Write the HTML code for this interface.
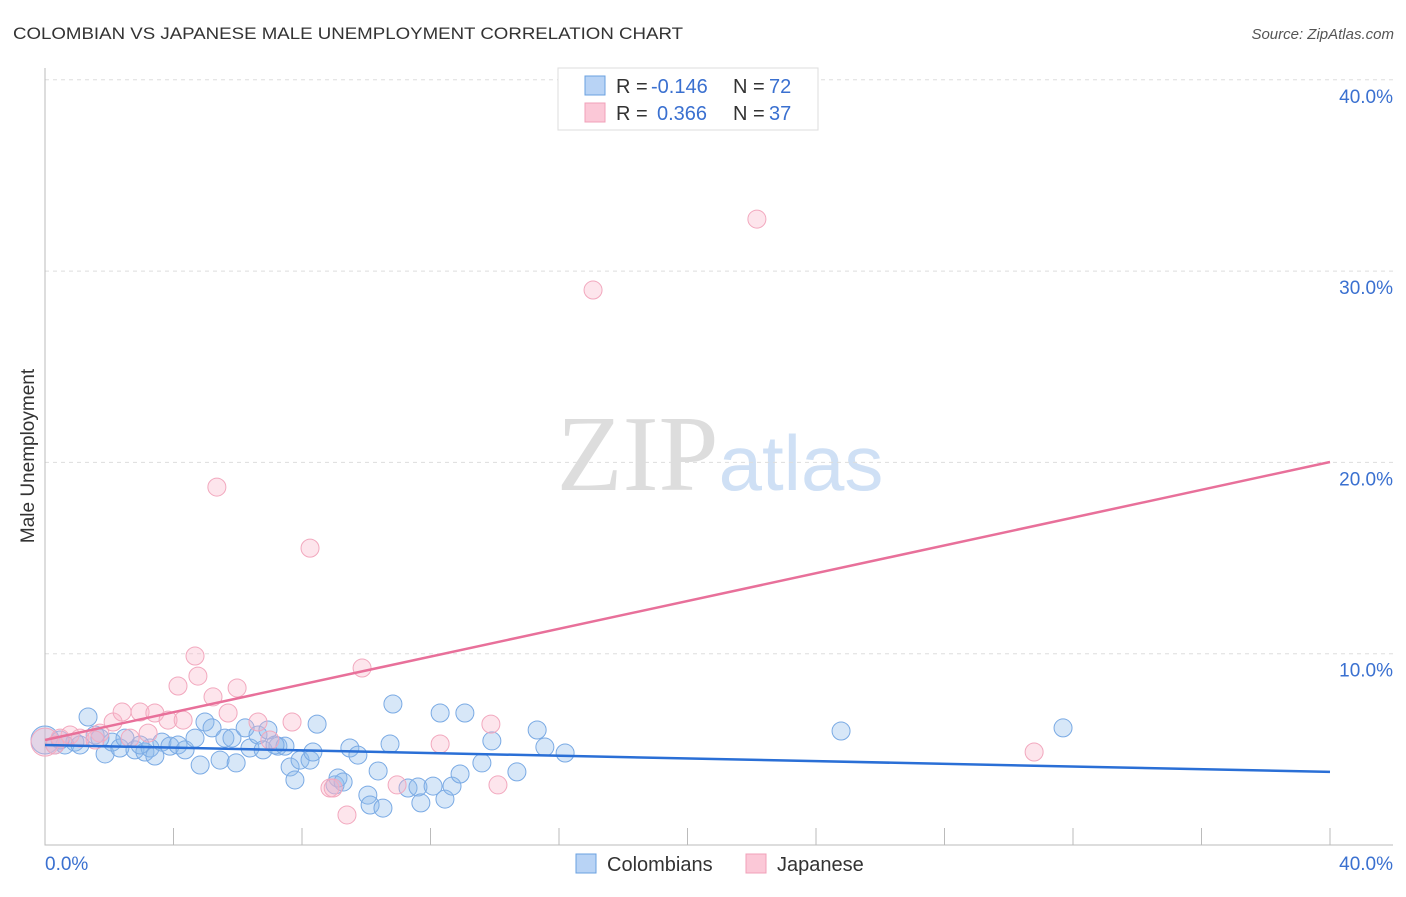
<!DOCTYPE html>
<html><head><meta charset="utf-8"><style>
body{margin:0;background:#fff;font-family:"Liberation Sans",sans-serif}
svg text{font-family:"Liberation Sans",sans-serif}
</style></head><body>
<svg id="chart" width="1406" height="892" xmlns="http://www.w3.org/2000/svg">
<text x="13" y="39" font-size="17" fill="#333" textLength="670" lengthAdjust="spacingAndGlyphs">COLOMBIAN VS JAPANESE MALE UNEMPLOYMENT CORRELATION CHART</text>
<text x="1394" y="39" font-size="15" fill="#555" text-anchor="end" font-style="italic">Source: ZipAtlas.com</text>
<text transform="translate(34,456) rotate(-90)" font-size="19" fill="#333" text-anchor="middle">Male Unemployment</text>
<text x="720" y="490" font-size="108" text-anchor="middle"><tspan font-family="Liberation Serif" fill="#ddd">ZIP</tspan><tspan fill="#cfe0f5" font-size="78">atlas</tspan></text>
<g id="grid"></g>
<g id="marks"></g>
<g>
<rect x="558" y="68" width="260" height="62" fill="#fff" stroke="#ddd"/>
<rect x="585" y="76" width="20" height="19" fill="#b8d3f5" stroke="#6aa0e0"/>
<rect x="585" y="103" width="20" height="19" fill="#fbc8d7" stroke="#f0a0b8"/>
<text x="616" y="93" font-size="20" fill="#333">R =</text>
<text x="651" y="93" font-size="20" fill="#3a70d0">-0.146</text>
<text x="733" y="93" font-size="20" fill="#333">N =</text>
<text x="769" y="93" font-size="20" fill="#3a70d0">72</text>
<text x="616" y="120" font-size="20" fill="#333">R =</text>
<text x="657" y="120" font-size="20" fill="#3a70d0">0.366</text>
<text x="733" y="120" font-size="20" fill="#333">N =</text>
<text x="769" y="120" font-size="20" fill="#3a70d0">37</text>
</g>
<g>
<rect x="576" y="854" width="20" height="19" fill="#b8d3f5" stroke="#6aa0e0"/>
<text x="607" y="871" font-size="20" fill="#333">Colombians</text>
<rect x="746" y="854" width="20" height="19" fill="#fbc8d7" stroke="#f0a0b8"/>
<text x="777" y="871" font-size="20" fill="#333">Japanese</text>
</g>
</svg>
<script>
const yTicks=[10,20,30,40];
const yTickLabels=["10.0%","20.0%","30.0%","40.0%"];
const xTickLabels=["0.0%","40.0%"];
const colX=[0,0.31,0.62,0.93,1.34,1.56,1.87,2.09,2.33,2.49,2.80,3.11,3.27,3.42,3.64,3.89,4.14,4.36,4.67,4.83,4.98,5.20,5.45,5.60,5.82,5.95,6.23,6.38,6.63,6.79,6.94,7.25,7.47,7.63,7.78,7.94,8.25,8.34,8.47,9.03,9.12,9.28,9.49,9.74,10.05,10.12,10.37,10.52,10.74,10.83,11.30,11.61,11.70,12.08,12.30,12.45,12.67,12.92,13.07,13.60,13.91,14.69,15.32,15.56,16.19,24.78,31.69,0.47,1.09,1.71,2.96,7.16];
const colY=[5.49,5.23,5.23,5.38,6.69,5.75,4.76,5.38,5.07,5.59,4.97,4.86,5.07,4.65,5.38,5.17,5.23,4.97,5.59,4.18,6.43,6.12,4.44,5.59,5.59,4.29,6.12,5.07,5.75,4.97,6.01,5.17,5.17,4.08,3.40,4.44,4.44,4.86,6.32,3.14,3.50,3.29,5.07,4.70,2.61,2.09,3.87,1.93,5.28,7.37,2.98,3.03,2.20,3.08,6.90,2.40,3.08,3.71,6.90,4.29,5.44,3.82,6.01,5.12,4.81,5.96,6.12,5.49,5.23,5.59,5.23,5.23];
const japX=[0,0.31,0.78,1.09,1.71,2.12,2.40,2.96,3.21,3.42,3.83,4.14,4.30,4.67,4.76,5.23,5.35,5.70,5.98,6.63,7.00,7.69,8.25,8.87,8.97,9.40,9.87,10.96,12.30,13.88,14.10,17.06,22.16,30.79,1.56,2.65,0.47];
const japY=[5.38,5.23,5.75,5.59,5.85,6.43,6.95,6.95,5.85,6.90,6.53,8.31,6.53,9.88,8.83,7.74,18.71,6.90,8.21,6.43,5.49,6.43,15.52,2.98,2.98,1.57,9.25,3.14,5.28,6.32,3.14,29.01,32.72,4.86,5.49,5.59,5.59];
const colTrend=[5.23,3.82];
const japTrend=[5.49,20.02];
const NS="http://www.w3.org/2000/svg";
const X=v=>45+v*32.125, Y=v=>845-v*19.13;
function mk(t,a,p){const e=document.createElementNS(NS,t);for(const k in a)e.setAttribute(k,a[k]);p.appendChild(e);return e;}
const g=document.getElementById('grid'), m=document.getElementById('marks');
yTicks.forEach((t,i)=>{
 const l=mk('line',{x1:45,x2:1393,y1:Y(t),y2:Y(t),stroke:'#ddd','stroke-dasharray':'4,4'},g);
 
 
 const tx=mk('text',{x:1393,y:Y(t)+23,'font-size':19,fill:'#3a70d0','text-anchor':'end'},g);tx.textContent=yTickLabels[i];
 
 
});
const ax=mk('path',{d:'M45 68V845H1393',stroke:'#bbb',fill:'none'},g);


for(let i=1;i<=10;i++){const t=mk('line',{x1:X(i*4),x2:X(i*4),y1:828,y2:845,stroke:'#bbb'},g);
 
 }
[[0,'start'],[40,'end']].forEach((p,i)=>{const t=mk('text',{x:i?1393:45,y:870,'font-size':19,fill:'#3a70d0','text-anchor':p[1]},g);t.textContent=xTickLabels[i];
 
 });
function pts(xs,ys,fill,stroke,name){xs.forEach((x,i)=>{const c=mk('circle',{cx:X(x),cy:Y(ys[i]),r:(x===0?14:9),fill:fill,stroke:stroke,'stroke-width':1},m);
 
 });}
pts(colX,colY,'rgba(140,185,235,0.35)','#7aaae4','colombian-point');
pts(japX,japY,'rgba(248,180,200,0.35)','#f2a8be','japanese-point');
const l1=mk('line',{x1:X(0),y1:Y(colTrend[0]),x2:X(40),y2:Y(colTrend[1]),stroke:'#2a6fd6','stroke-width':2.5},m);


const l2=mk('line',{x1:X(0),y1:Y(japTrend[0]),x2:X(40),y2:Y(japTrend[1]),stroke:'#e8709a','stroke-width':2.5},m);


</script>
</body></html>
